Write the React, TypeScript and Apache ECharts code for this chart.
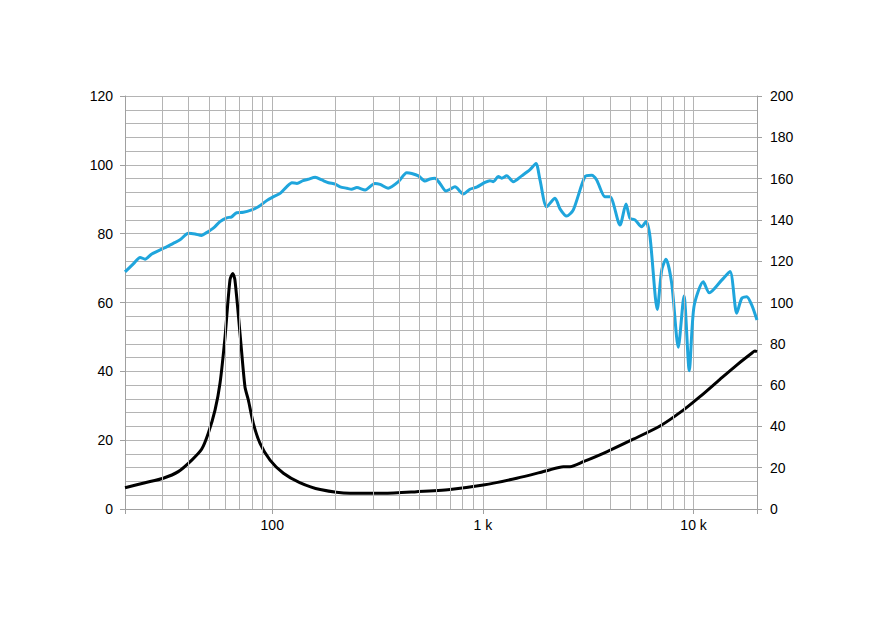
import React, { useEffect, useRef } from "react";
import * as echarts from "echarts";

// Sound pressure level (left axis, dB) – frequency in Hz
const splFreq = [
  20, 21.9, 23.6, 24.9, 26.8, 30.4, 33.9, 36.5, 40, 43, 46.2, 48.8, 52.5, 56.5, 60.8, 64.2, 67.8, 72.9,
  79.9, 85.9, 94.1, 101, 109, 117, 124, 131, 140, 148, 160, 172, 185, 199, 210, 226, 238, 252, 276,
  307, 325, 355, 397, 435, 459, 494, 531, 561, 592, 625, 668, 698, 737, 807, 868, 934, 1023, 1080,
  1120, 1183, 1228, 1297, 1393, 1528, 1673, 1786, 1866, 2008, 2199, 2322, 2498, 2686, 3052, 3284,
  3467, 3798, 4012, 4474, 4778, 4992, 5272, 5672, 5944, 6210, 6726, 7058, 7396, 7872, 8460, 9004,
  9540, 10044, 11120, 11874, 13600, 14890, 16024, 16924, 17876, 18872, 20000,
];
const splValues = [
  68.9, 71.2, 73.1, 72.6, 74.1, 75.7, 77.2, 78.2, 80.1, 79.9, 79.5, 80.3, 81.6, 83.5, 84.6, 84.9,
  86.1, 86.2, 86.9, 87.8, 89.6, 90.7, 91.7, 93.6, 94.8, 94.6, 95.4, 95.8, 96.4, 95.6, 94.8, 94.4,
  93.6, 93.2, 92.9, 93.4, 92.7, 94.6, 94.3, 93.2, 95.1, 97.7, 97.5, 96.8, 95.3, 95.9, 96.1, 94.6,
  92.4, 92.9, 93.6, 91.5, 92.9, 93.5, 94.9, 95.4, 95.1, 96.6, 96.1, 96.8, 95.1, 96.8, 98.6, 100.4,
  95.6, 87.8, 90.3, 87.2, 85.1, 86.9, 96.6, 97.0, 95.6, 90.7, 90.7, 82.5, 88.6, 84.5, 84.0, 82.0,
  83.5, 79.1, 58.0, 69.4, 72.6, 65.6, 47.0, 61.9, 40.2, 58.8, 66.0, 62.8, 66.5, 69.0, 56.9, 61.2,
  61.7, 59.3, 54.9,
];

// Impedance (right axis, ohm) – frequency in Hz
const impFreq = [
  20, 24.9, 30.4, 35.8, 41.5, 46.2, 49.7, 53.5, 56.5, 59.7, 63.0, 64.9, 66.5, 70.3, 74.2, 77.0, 81.3,
  87.5, 97.6, 113, 135, 169, 234, 337, 485, 698, 1004, 1447, 2008, 2408, 2590, 2996, 3868, 5174, 6928,
  8934, 10720, 13344, 16024, 18872, 19564, 20000,
];
const impValues = [
  10.3, 12.7, 14.9, 18.1, 23.7, 28.9, 36.7, 47.9, 60.9, 83.4, 110.9, 114.1, 110.9, 85.1, 59.2, 52.8,
  41.5, 31.8, 23.7, 17.3, 12.8, 9.4, 7.6, 7.6, 8.4, 9.5, 11.6, 14.9, 18.5, 20.5, 20.5, 22.9, 27.7,
  33.8, 40.2, 47.9, 54.4, 62.8, 69.7, 75.4, 76.5, 76.2,
];

// Minor vertical grid lines (log decades)
const minorFreqs = [
  30, 40, 50, 60, 70, 80, 90, 200, 300, 400, 500, 600, 700, 800, 900, 2000, 3000, 4000, 5000, 6000,
  7000, 8000, 9000,
];

const xLabels: Record<number, string> = { 100: "100", 1000: "1 k", 10000: "10 k" };

const GRID_COLOR = "#b4b4b4";
const AXIS_COLOR = "#a0a0a0";
const FONT = "Liberation Sans, Arial, sans-serif";

export default function App() {
  const ref = useRef<HTMLDivElement>(null);

  useEffect(() => {
    if (!ref.current) return;
    const chart = echarts.init(ref.current, null, { renderer: "svg" });
    const labelStyle = { color: "#000", fontSize: 14, fontFamily: FONT };
    chart.setOption({
      animation: false,
      backgroundColor: "#fff",
      grid: { left: 125, top: 96, right: 130, bottom: 110, containLabel: false },
      xAxis: {
        type: "log",
        logBase: 10,
        min: 20,
        max: 20000,
        axisLine: { show: true, lineStyle: { color: AXIS_COLOR, width: 1 } },
        axisTick: { show: true, length: 5, lineStyle: { color: AXIS_COLOR } },
        axisLabel: {
          ...labelStyle,
          margin: 9,
          showMinLabel: true,
          showMaxLabel: true,
          formatter: (v: number) => xLabels[Math.round(v)] ?? "",
        },
        splitLine: { show: true, lineStyle: { color: GRID_COLOR, width: 1 } },
        minorTick: { show: false },
        minorSplitLine: { show: false },
      },
      yAxis: [
        {
          type: "value",
          min: 0,
          max: 120,
          interval: 20,
          position: "left",
          axisLine: { show: true, lineStyle: { color: AXIS_COLOR, width: 1 } },
          axisTick: { show: true, length: 5, lineStyle: { color: AXIS_COLOR } },
          axisLabel: { ...labelStyle, margin: 12 },
          splitLine: { show: true, lineStyle: { color: GRID_COLOR, width: 1 } },
          minorTick: { show: false, splitNumber: 5 },
          minorSplitLine: { show: true, lineStyle: { color: GRID_COLOR, width: 1 } },
        },
        {
          type: "value",
          min: 0,
          max: 200,
          interval: 20,
          position: "right",
          axisLine: { show: true, lineStyle: { color: AXIS_COLOR, width: 1 } },
          axisTick: { show: true, length: 5, lineStyle: { color: AXIS_COLOR } },
          axisLabel: { ...labelStyle, margin: 13 },
          splitLine: { show: false },
        },
      ],
      series: [
        {
          type: "line",
          name: "grid",
          data: [],
          z: 1,
          silent: true,
          markLine: {
            silent: true,
            symbol: ["none", "none"],
            label: { show: false },
            lineStyle: { color: GRID_COLOR, width: 1, type: "solid" },
            emphasis: { disabled: true },
            data: minorFreqs.map((f) => ({ xAxis: f })),
          },
        },
        {
          type: "line",
          name: "SPL",
          yAxisIndex: 0,
          data: splFreq.map((f, i) => [f, splValues[i]]),
          showSymbol: false,
          smooth: 0.25,
          lineStyle: { color: "#1fa5dc", width: 3 },
          itemStyle: { color: "#1fa5dc" },
          z: 3,
        },
        {
          type: "line",
          name: "Impedance",
          yAxisIndex: 1,
          data: impFreq.map((f, i) => [f, impValues[i]]),
          showSymbol: false,
          smooth: 0.25,
          lineStyle: { color: "#000", width: 3 },
          itemStyle: { color: "#000" },
          z: 4,
        },
      ],
    });
    return () => chart.dispose();
  }, []);

  return (
    <div
      ref={ref}
      style={{ position: "absolute", left: 0, top: 0, width: 887, height: 619 }}
    />
  );
}
